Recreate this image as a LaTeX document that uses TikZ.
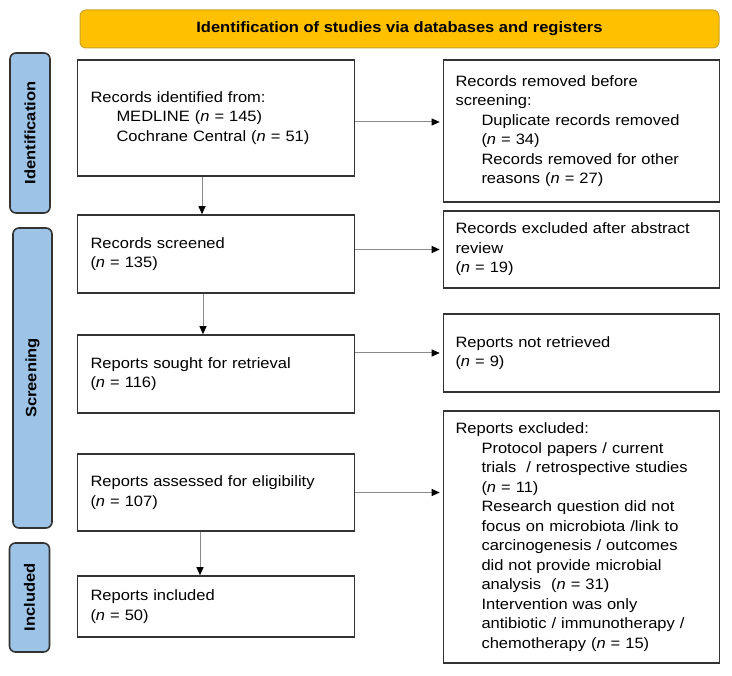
\documentclass[tikz,border=0pt]{standalone}
\usepackage{fontspec}
\setmainfont{Liberation Sans}[FakeStretch=1.1]
\usetikzlibrary{arrows.meta,calc}
\definecolor{bannerfill}{HTML}{FFC000}
\definecolor{bannerdraw}{HTML}{C9A227}
\definecolor{labelfill}{HTML}{9DC3E6}
\definecolor{boxdraw}{HTML}{333333}
\definecolor{arrowgray}{HTML}{8A8A8A}
\tikzset{
  txt/.style={font=\fontsize{15}{19.5}\selectfont},
  leftbox/.style={txt, draw=boxdraw, line width=1.6pt, fill=white, inner xsep=13pt, inner ysep=0pt,
    text width=251pt, align=left, minimum height=#1},
  rightbox/.style={txt, draw=boxdraw, line width=1.6pt, fill=white, inner xsep=12pt, inner ysep=0pt,
    text width=252pt, align=left, minimum height=#1},
  phase/.style={draw=boxdraw, line width=1.6pt, fill=labelfill, rounded corners=6pt,
    minimum width=#1, minimum height=40pt, inner sep=0pt, font=\fontsize{15}{18}\selectfont\bfseries},
  banner/.style={draw=bannerdraw, line width=1pt, fill=bannerfill, rounded corners=6pt,
    minimum width=639pt, minimum height=38pt, inner sep=0pt, font=\fontsize{15}{18}\selectfont\bfseries},
  flow/.style={draw=arrowgray, line width=1pt, -{Triangle[length=8pt,width=7pt,color=black]}, shorten >=3pt},
}
\newcommand{\ind}{\hspace*{26pt}}
\begin{document}
\begin{tikzpicture}[x=1pt,y=-1pt]
\useasboundingbox (0,0) rectangle (732,676);

\node[banner] (ban) at (399.5,29) {Identification of studies via databases and registers};

\node[phase=160pt, rotate=90] (pid) at (30,133) {Identification};
\node[phase=300pt, rotate=90, minimum height=39pt] (psc) at (32.5,378) {Screening};
\node[phase=109pt, rotate=90] (pin) at (29.5,597.5) {Included};

\node[leftbox=116pt] (b1) at (216,118) {Records identified from:\\\ind MEDLINE (\textit{n} = 145)\\\ind Cochrane Central (\textit{n} = 51)};
\node[leftbox=78pt] (b2) at (216,254) {Records screened\\(\textit{n} = 135)};
\node[leftbox=78pt] (b3) at (216,374) {Reports sought for retrieval\\(\textit{n} = 116)};
\node[leftbox=77pt] (b4) at (216,492.5) {Reports assessed for eligibility\\(\textit{n} = 107)};
\node[leftbox=61pt] (b5) at (216,606.5) {Reports included\\(\textit{n} = 50)};

\node[rightbox=142pt] (rem) at (581.5,131) {Records removed before\\screening:\\\ind Duplicate records removed\\\ind (\textit{n} = 34)\\\ind Records removed for other\\\ind reasons (\textit{n} = 27)};
\node[rightbox=77pt] (ex1) at (581.5,249.5) {Records excluded after abstract\\review\\(\textit{n} = 19)};
\node[rightbox=78pt] (nr) at (581.5,353) {Reports not retrieved\\(\textit{n} = 9)};
\node[rightbox=252pt] (rex) at (581.5,537) {Reports excluded:\\\ind Protocol papers / current\\\ind trials~ / retrospective studies\\\ind (\textit{n} = 11)\\\ind Research question did not\\\ind focus on microbiota /link to\\\ind carcinogenesis / outcomes\\\ind did not provide microbial\\\ind analysis~ (\textit{n} = 31)\\\ind Intervention was only\\\ind antibiotic / immunotherapy /\\\ind chemotherapy (\textit{n} = 15)};

\coordinate (cx1) at (202,0);
\coordinate (cx2) at (203,0);
\coordinate (cx3) at (200,0);

\draw[flow] ([yshift=-4pt]b1.east) -- ([yshift=-4pt]b1.east -| rem.west);
\draw[flow] (ex1.west -| b2.east) -- (ex1.west);
\draw[flow] (nr.west -| b3.east) -- (nr.west);
\draw[flow] (b4.east) -- (b4.east -| rex.west);

\draw[flow, shorten >=0pt] (b1.south -| cx1) -- (b2.north -| cx1);
\draw[flow, shorten >=0pt] (b2.south -| cx2) -- (b3.north -| cx2);
\draw[flow, shorten >=0pt] (b4.south -| cx3) -- (b5.north -| cx3);
\end{tikzpicture}
\end{document}
